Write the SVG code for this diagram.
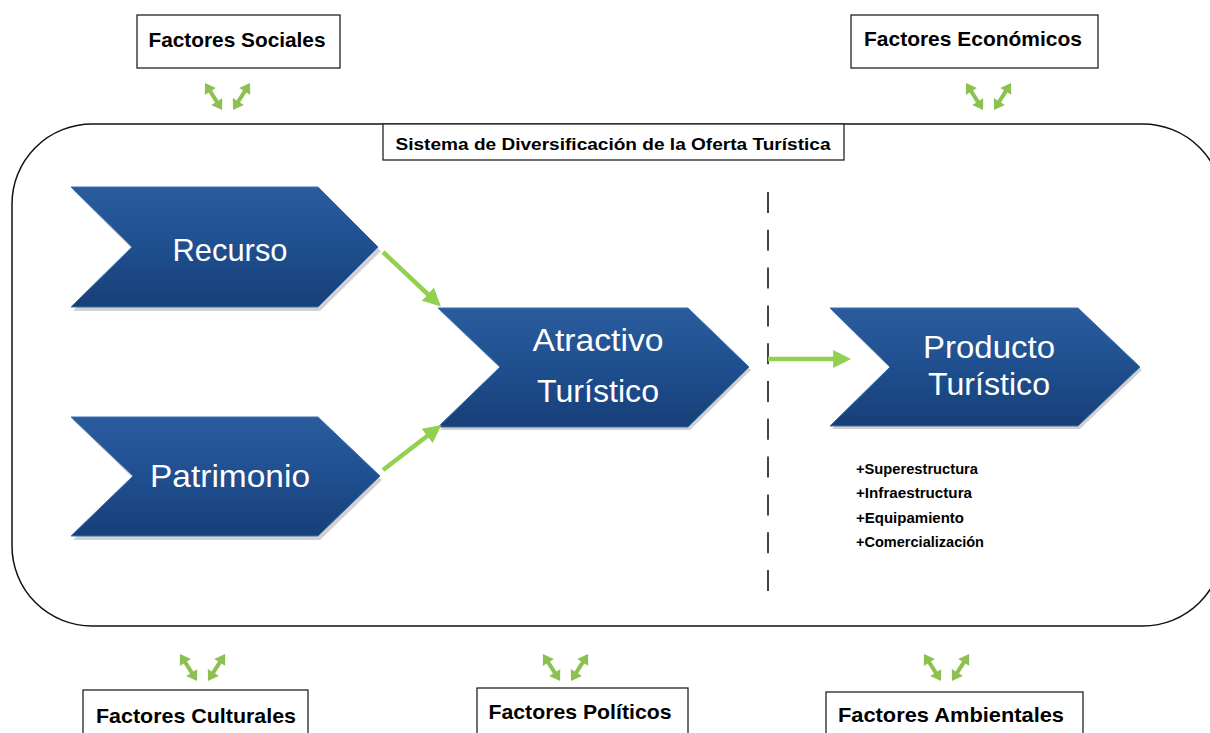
<svg xmlns="http://www.w3.org/2000/svg" xmlns:xlink="http://www.w3.org/1999/xlink" width="1210" height="733" viewBox="0 0 1210 733">
<style>
.box{fill:#fff;stroke:#222;stroke-width:1.3}
.lbl{font-family:"Liberation Sans",Arial,sans-serif;font-weight:bold;fill:#000}
.big{font-family:"Liberation Sans",Arial,sans-serif;fill:#fff;font-size:32px}
.chev{fill:url(#blue);stroke:#3d6fb0;stroke-width:1}
.shadow{fill:#000;opacity:0.18}
.conn{stroke:#92d050;stroke-width:4.5;fill:none}
.dbl{fill:#8cc152}
</style>
<defs>
<linearGradient id="blue" x1="0" y1="0" x2="0" y2="1">
<stop offset="0" stop-color="#2a5c9e"/>
<stop offset="0.5" stop-color="#1f4f8f"/>
<stop offset="1" stop-color="#173f78"/>
</linearGradient>
<marker id="ah" markerWidth="4" markerHeight="4" refX="2.2" refY="2" orient="auto" markerUnits="strokeWidth">
<path d="M0,0 L4,2 L0,4 Z" fill="#92d050"/>
</marker>
<path id="darrow" class="dbl" d="M0,0 L10,-6.5 L10,-2 L22,-2 L22,-6.5 L32,0 L22,6.5 L22,2 L10,2 L10,6.5 Z"/>
<g id="pair">
<use xlink:href="#darrow" transform="rotate(57.8)"/>
<use xlink:href="#darrow" transform="translate(28,27) rotate(-57.8)"/>
</g>
</defs>
<rect width="1210" height="733" fill="#fff"/>

<g id="system">
<rect x="12" y="124" width="1211" height="502" rx="80" ry="80" fill="none" stroke="#111" stroke-width="1.5"/>
<line x1="768" y1="192" x2="768" y2="598" stroke="#444" stroke-width="2" stroke-dasharray="21,16.8"/>
</g>

<g id="sistema-label">
<rect class="box" x="383" y="124" width="461" height="36"/>
<text class="lbl" x="613" y="150" font-size="17" text-anchor="middle" textLength="435" lengthAdjust="spacingAndGlyphs">Sistema de Diversificación de la Oferta Turística</text>
</g>

<g id="factores-sociales">
<rect class="box" x="137" y="15" width="203" height="53"/>
<text class="lbl" x="237" y="47" font-size="20.5" text-anchor="middle" textLength="177" lengthAdjust="spacingAndGlyphs">Factores Sociales</text>
<use xlink:href="#pair" x="205" y="83"/>
</g>
<g id="factores-economicos">
<rect class="box" x="851" y="15" width="247" height="53"/>
<text class="lbl" x="973" y="46" font-size="20.5" text-anchor="middle" textLength="218" lengthAdjust="spacingAndGlyphs">Factores Económicos</text>
<use xlink:href="#pair" x="966" y="83"/>
</g>
<g id="factores-culturales">
<rect class="box" x="83" y="690" width="225" height="50"/>
<text class="lbl" x="196" y="723" font-size="20.5" text-anchor="middle" textLength="200" lengthAdjust="spacingAndGlyphs">Factores Culturales</text>
<use xlink:href="#pair" x="180" y="654"/>
</g>
<g id="factores-politicos">
<rect class="box" x="477" y="688" width="211" height="52"/>
<text class="lbl" x="580" y="719" font-size="20.5" text-anchor="middle" textLength="183" lengthAdjust="spacingAndGlyphs">Factores Políticos</text>
<use xlink:href="#pair" x="543" y="654"/>
</g>
<g id="factores-ambientales">
<rect class="box" x="826" y="692" width="257" height="48"/>
<text class="lbl" x="951" y="722" font-size="20.5" text-anchor="middle" textLength="226" lengthAdjust="spacingAndGlyphs">Factores Ambientales</text>
<use xlink:href="#pair" x="924" y="654"/>
</g>

<g id="recurso">
<polygon class="shadow" points="73,190 320,190 381,251 320,311 73,311 134,251"/>
<polygon class="chev" points="71,187 318,187 378,247 318,307 71,307 132,247"/>
<text class="big" x="230" y="261" text-anchor="middle" textLength="115" lengthAdjust="spacingAndGlyphs">Recurso</text>
</g>
<g id="patrimonio">
<polygon class="shadow" points="73,420 320,420 382,480 320,540 73,540 135,480"/>
<polygon class="chev" points="71,417 318,417 380,476 318,536 71,536 133,476"/>
<text class="big" x="230" y="487" text-anchor="middle" textLength="160" lengthAdjust="spacingAndGlyphs">Patrimonio</text>
</g>
<g id="atractivo">
<polygon class="shadow" points="440,311 690,311 751,370 690,430 440,430 502,370"/>
<polygon class="chev" points="438,308 688,308 749,367 688,427 438,427 500,367"/>
<text class="big" x="598" y="351" text-anchor="middle" textLength="131" lengthAdjust="spacingAndGlyphs">Atractivo</text>
<text class="big" x="598" y="402" text-anchor="middle" textLength="122" lengthAdjust="spacingAndGlyphs">Turístico</text>
</g>
<g id="producto">
<polygon class="shadow" points="832,311 1080,311 1142,370 1080,429 832,429 892,370"/>
<polygon class="chev" points="830,308 1078,308 1140,367 1078,426 830,426 890,367"/>
<text class="big" x="989" y="358" text-anchor="middle" textLength="132" lengthAdjust="spacingAndGlyphs">Producto</text>
<text class="big" x="989" y="395" text-anchor="middle" textLength="122" lengthAdjust="spacingAndGlyphs">Turístico</text>
</g>

<g id="componentes">
<text class="lbl" x="856" y="474" font-size="14.5" textLength="122" lengthAdjust="spacingAndGlyphs">+Superestructura</text>
<text class="lbl" x="856" y="498" font-size="14.5" textLength="116" lengthAdjust="spacingAndGlyphs">+Infraestructura</text>
<text class="lbl" x="856" y="523" font-size="14.5" textLength="108" lengthAdjust="spacingAndGlyphs">+Equipamiento</text>
<text class="lbl" x="856" y="547" font-size="14.5" textLength="128" lengthAdjust="spacingAndGlyphs">+Comercialización</text>
</g>

<g id="connectors">
<line class="conn" x1="383" y1="252" x2="435" y2="301" marker-end="url(#ah)"/>
<line class="conn" x1="383" y1="470" x2="435" y2="430" marker-end="url(#ah)"/>
<line class="conn" x1="768" y1="359" x2="843" y2="359" marker-end="url(#ah)"/>
</g>
</svg>
